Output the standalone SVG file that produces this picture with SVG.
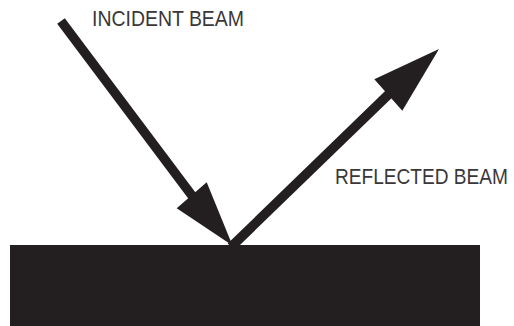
<svg xmlns="http://www.w3.org/2000/svg" width="514" height="326" viewBox="0 0 514 326">
<style>
.ink{fill:#231f20;}
.shaft{stroke:#231f20;stroke-width:9.5;fill:none;}
.lbl{font-family:"Liberation Sans",Arial,sans-serif;font-size:19px;fill:#3a3738;}
</style>
<rect width="514" height="326" fill="#ffffff"/>
<g id="surface">
<rect class="ink" x="10" y="245" width="470" height="81"/>
</g>
<g id="connectors">
<g id="incident-beam">
<line class="shaft" x1="61" y1="21" x2="193" y2="197"/>
<polygon class="ink" points="176.7,208.3 206.7,182.3 232.5,245.5"/>
</g>
<g id="reflected-beam">
<line class="shaft" x1="231" y1="247" x2="390" y2="93"/>
<polygon class="ink" points="374.3,79.3 402.3,110.7 439,49"/>
</g>
</g>
<g id="label-incident">
<text class="lbl" transform="translate(92,26) scale(1,1.13)" textLength="152" lengthAdjust="spacingAndGlyphs">INCIDENT BEAM</text>
</g>
<g id="label-reflected">
<text class="lbl" transform="translate(335,183.5) scale(1,1.13)" textLength="173" lengthAdjust="spacingAndGlyphs">REFLECTED BEAM</text>
</g>
</svg>
